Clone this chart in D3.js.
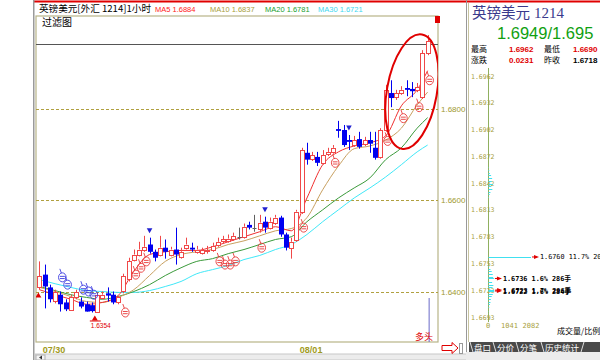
<!DOCTYPE html>
<html><head><meta charset="utf-8">
<script src="https://cdn.jsdelivr.net/npm/d3@7"></script>
<style>
body{margin:0;background:#fff;}
svg{display:block;font-family:"Liberation Sans",Arial,"Noto Sans CJK SC",sans-serif;}
</style>
</head><body>
<svg id="c" width="600" height="360"></svg>
<script>
// ---------- data ----------
const opens=[1.6409,1.6437,1.6409,1.6378,1.6393,1.6376,1.6361,1.6387,1.6378,1.6372,1.6370,1.6356,1.6387,1.6396,1.6393,1.6376,1.6400,1.6426,1.6470,1.6481,1.6492,1.6503,1.6487,1.6481,1.6496,1.6481,1.6492,1.6477,1.6496,1.6496,1.6487,1.6485,1.6487,1.6492,1.6503,1.6509,1.6511,1.6516,1.6520,1.6520,1.6546,1.6540,1.6538,1.6553,1.6540,1.6551,1.6562,1.6525,1.6496,1.6514,1.6575,1.6704,1.6691,1.6695,1.6682,1.6702,1.6706,1.6756,1.6754,1.6732,1.6721,1.6734,1.6724,1.6732,1.6715,1.6695,1.6754,1.6835,1.6826,1.6835,1.6846,1.6844,1.6842,1.6826,1.6922];
const highs=[1.6466,1.6459,1.6415,1.6404,1.6400,1.6383,1.6393,1.6404,1.6387,1.6378,1.6376,1.6398,1.6400,1.6409,1.6400,1.6391,1.6439,1.6474,1.6492,1.6509,1.6522,1.6518,1.6492,1.6522,1.6514,1.6498,1.6540,1.6496,1.6518,1.6507,1.6500,1.6496,1.6500,1.6507,1.6518,1.6522,1.6525,1.6529,1.6540,1.6549,1.6553,1.6568,1.6568,1.6564,1.6562,1.6568,1.6566,1.6529,1.6518,1.6579,1.6715,1.6726,1.6706,1.6706,1.6710,1.6715,1.6721,1.6774,1.6765,1.6743,1.6741,1.6750,1.6739,1.6750,1.6750,1.6758,1.6853,1.6863,1.6842,1.6850,1.6863,1.6859,1.6857,1.6929,1.6962];
const lows=[1.6404,1.6363,1.6376,1.6374,1.6356,1.6357,1.6358,1.6383,1.6363,1.6356,1.6354,1.6355,1.6383,1.6378,1.6372,1.6372,1.6396,1.6422,1.6466,1.6477,1.6487,1.6483,1.6466,1.6477,1.6472,1.6477,1.6459,1.6472,1.6492,1.6487,1.6483,1.6481,1.6483,1.6487,1.6498,1.6505,1.6507,1.6511,1.6514,1.6516,1.6536,1.6531,1.6529,1.6529,1.6536,1.6546,1.6520,1.6490,1.6472,1.6509,1.6570,1.6678,1.6686,1.6675,1.6678,1.6697,1.6702,1.6737,1.6717,1.6710,1.6717,1.6713,1.6719,1.6704,1.6689,1.6691,1.6750,1.6804,1.6820,1.6831,1.6828,1.6826,1.6837,1.6822,1.6918];
const closes=[1.6433,1.6411,1.6383,1.6398,1.6372,1.6361,1.6389,1.6398,1.6367,1.6356,1.6357,1.6393,1.6393,1.6391,1.6376,1.6387,1.6433,1.6466,1.6481,1.6492,1.6498,1.6487,1.6474,1.6496,1.6487,1.6492,1.6481,1.6487,1.6503,1.6492,1.6492,1.6492,1.6490,1.6500,1.6509,1.6514,1.6516,1.6522,1.6520,1.6542,1.6540,1.6540,1.6551,1.6540,1.6553,1.6562,1.6525,1.6496,1.6509,1.6575,1.6710,1.6689,1.6699,1.6682,1.6699,1.6706,1.6715,1.6752,1.6721,1.6728,1.6732,1.6717,1.6732,1.6724,1.6693,1.6754,1.6842,1.6824,1.6835,1.6842,1.6842,1.6839,1.6848,1.6922,1.6949];

// moving averages at these candle indices
const maIdx=[0,3,6,9,12,15,18,21,24,27,30,33,36,39,42,45,48,51,54,57,60,63,66,69,72,74];
const ma5 =[1.6404,1.6393,1.6383,1.6372,1.6376,1.6391,1.6444,1.6481,1.6487,1.6490,1.6490,1.6498,1.6509,1.6520,1.6531,1.6542,1.6533,1.6605,1.6678,1.6706,1.6719,1.6726,1.6741,1.6807,1.6842,1.6884];
const ma10=[1.6409,1.6400,1.6389,1.6378,1.6376,1.6387,1.6404,1.6435,1.6466,1.6481,1.6487,1.6492,1.6503,1.6511,1.6522,1.6533,1.6538,1.6562,1.6623,1.6675,1.6713,1.6719,1.6732,1.6758,1.6809,1.6837];
const ma20=[1.6411,1.6402,1.6393,1.6387,1.6383,1.6389,1.6400,1.6415,1.6435,1.6452,1.6466,1.6472,1.6483,1.6492,1.6503,1.6514,1.6520,1.6553,1.6579,1.6605,1.6627,1.6649,1.6689,1.6715,1.6758,1.6781];
const ma30=[1.6426,1.6417,1.6409,1.6402,1.6400,1.6398,1.6398,1.6402,1.6411,1.6422,1.6439,1.6448,1.6457,1.6470,1.6479,1.6492,1.6503,1.6525,1.6553,1.6579,1.6605,1.6627,1.6651,1.6678,1.6706,1.6721];

const yTicks=[1.64,1.66,1.68];
const xLabels=["07/30","08/01"];
const xLabelIdx=[1,50];

// signal glyphs (hands)
const handIdx  =[4,5,8,9,10,16,18,19,20,34,35,36,37,42,50,56,66,69,72,74];
const handPrice=[1.6431,1.6415,1.6404,1.6400,1.6393,1.6354,1.6437,1.6452,1.6466,1.6466,1.6459,1.6459,1.6466,1.6496,1.6540,1.6682,1.6730,1.6780,1.6804,1.6863];
const handColor=["b","b","b","b","b","r","r","r","r","r","r","r","r","r","r","r","r","r","r","r"];
const sellIdx=[21,43,59];

// right panel: price distribution
const distTicks=[1.6962,1.6932,1.6902,1.6872,1.6842,1.6813,1.6783,1.6753,1.6723,1.6693];
const distPrices=[1.6860,1.6857,1.6854,1.6851,1.6848,1.6845,1.6842,1.6839,1.6836,1.6833,1.6830,1.6827,
  1.6760,1.6750,1.6747,1.6744,1.6741,1.6738,1.6736,1.6732,1.6729,1.6726,1.6723,1.6722,1.6719,1.6716,1.6713,1.6710,1.6707,1.6704,1.6700,1.6697];
const distVols=[40,60,90,150,200,180,240,160,210,120,80,50,
  2082,60,120,180,230,250,286,200,260,220,296,284,230,180,140,120,90,60,40,20];
const volTicks=[0,1041,2082];
const noteLabels=["1.6760 11.7% 2082","1.6736 1.6% 286手","1.6723 1.7% 296手","1.6722 1.6% 284手"];
const notePrices=[1.6760,1.6736,1.6723,1.6722];
const noteVols=[2082,286,296,284];

// ---------- drawing ----------
const svg=d3.select("#c");
const L=36,R=438,T=16,B=342;
const x=d3.scaleBand().domain(d3.range(closes.length)).range([37,430]).paddingInner(0.3).paddingOuter(0.1);
const cx=i=>x(i)+x.bandwidth()/2;
const y=d3.scaleLinear().domain([1.64,1.68]).range([291.5,109]);

svg.append("rect").attr("width",600).attr("height",360).attr("fill","#fff");
// top red line & left border
svg.append("line").attr("x1",34).attr("x2",600).attr("y1",1.5).attr("y2",1.5).attr("stroke","#e00000").attr("stroke-width",2);
svg.append("rect").attr("x",33).attr("y",0).attr("width",1.5).attr("height",360).attr("fill","#9a9a9a");

// header
const hdr=svg.append("g");
hdr.append("text").attr("x",39).attr("y",12).attr("font-size",9.6).attr("fill","#000")
  .attr("font-family","'Noto Sans CJK SC',sans-serif").text("英镑美元[外汇 1214]1小时");
const maNames=["MA5","MA10","MA20","MA30"], maColors=["#ff2020","#a8a040","#20a030","#40d8f0"],
      maLineColors=["#f03030","#c8a060","#3a9a3a","#40e8f8"], maLast=[ma5,ma10,ma20,ma30].map(a=>a[a.length-1]);
const maX=[155,210,265,318];
maNames.forEach((n,k)=>hdr.append("text").attr("x",maX[k]).attr("y",12).attr("font-size",7.5).attr("fill",maColors[k]).text(n+" "+maLast[k].toFixed(4)));

// plot frame
svg.append("rect").attr("x",L).attr("y",T).attr("width",R-L).attr("height",B-T).attr("fill","#fff").attr("stroke","#b8b488").attr("stroke-width",1.2);
svg.append("text").attr("x",42).attr("y",26).attr("font-size",10).attr("fill","#000").attr("font-family","'Noto Sans CJK SC',sans-serif").text("过滤图");
svg.append("rect").attr("x",435).attr("y",T).attr("width",5).attr("height",7).attr("fill","#e00000");

svg.append("defs").append("clipPath").attr("id","pc").append("rect").attr("x",L).attr("y",T).attr("width",R-L).attr("height",B-T);
const g=svg.append("g").attr("clip-path","url(#pc)");

// gridlines
g.selectAll(".gl").data(yTicks).join("line").attr("x1",L).attr("x2",R)
  .attr("y1",d=>Math.round(y(d))+0.5).attr("y2",d=>Math.round(y(d))+0.5)
  .attr("stroke","#b0a040").attr("stroke-dasharray","3,2").attr("stroke-width",1);
// y axis labels
const ya=svg.append("g").attr("transform",`translate(${R+1},0)`)
  .call(d3.axisRight(y).tickValues(yTicks).tickFormat(d3.format(".4f")).tickSize(0).tickPadding(2));
ya.select(".domain").remove();
ya.selectAll("text").attr("font-size",8).attr("fill","#a09a30").attr("font-family","'Liberation Sans',Arial,sans-serif");

// current price line
const last=closes[closes.length-1];
g.append("line").attr("x1",L).attr("x2",R).attr("y1",Math.round(y(last))+3.5).attr("y2",Math.round(y(last))+3.5).attr("stroke","#555").attr("stroke-width",1);

// MA lines
[ma30,ma20,ma10,ma5].forEach((arr,k)=>{
  const col=maLineColors[3-k];
  const line=d3.line().x((d,j)=>cx(maIdx[j])).y(d=>y(d)).curve(d3.curveMonotoneX);
  g.append("path").attr("d",line(arr)).attr("fill","none").attr("stroke",col).attr("stroke-width",1);
});

// candles
const RED="#f04848", BLUE="#0000f0", GRAY="#606060";
closes.forEach((c,i)=>{
  const o=opens[i],h=highs[i],l=lows[i];
  const xc=Math.round(cx(i))+0.5;
  const top=y(Math.max(o,c)), bot=y(Math.min(o,c));
  if(c===o){
    g.append("line").attr("x1",xc).attr("x2",xc).attr("y1",y(h)).attr("y2",y(l)).attr("stroke",GRAY);
    g.append("line").attr("x1",xc-2).attr("x2",xc+2).attr("y1",Math.round(top)+0.5).attr("y2",Math.round(top)+0.5).attr("stroke",GRAY);
  } else if(c>o){
    g.append("line").attr("x1",xc).attr("x2",xc).attr("y1",y(h)).attr("y2",top).attr("stroke",RED);
    g.append("line").attr("x1",xc).attr("x2",xc).attr("y1",bot).attr("y2",y(l)).attr("stroke",RED);
    g.append("rect").attr("x",xc-2).attr("y",Math.round(top)+0.5).attr("width",4).attr("height",Math.max(1,Math.round(bot-top)))
      .attr("fill","#fff").attr("stroke",RED).attr("stroke-width",1);
  } else {
    g.append("line").attr("x1",xc).attr("x2",xc).attr("y1",y(h)).attr("y2",y(l)).attr("stroke",BLUE);
    g.append("rect").attr("x",xc-2.5).attr("y",top).attr("width",5).attr("height",Math.max(1.5,bot-top)).attr("fill",BLUE);
  }
});

// hand signals
handIdx.forEach((i,k)=>{
  const col=handColor[k]==="b"?"#3a3ae0":"#e83838";
  const hg=g.append("g").attr("transform",`translate(${cx(i)+2},${y(handPrice[k])})`).attr("fill","none").attr("stroke",col).attr("stroke-width",0.9);
  hg.append("ellipse").attr("rx",3.8).attr("ry",4.5);
  hg.append("path").attr("d","M-1,-4.3 L-2.5,-8.5 M-2.4,-1 L2.4,-1 M-2.4,1.2 L2.4,1.2");
});

// sell triangles
sellIdx.forEach(i=>{
  const yy=y(highs[i])-7;
  g.append("path").attr("d",`M${cx(i)-2.8},${yy-2.5} L${cx(i)+2.8},${yy-2.5} L${cx(i)},${yy+2.5} Z`).attr("fill","#2020d0");
});
// low marker
const lowI=d3.minIndex(lows);
{
  const yy=y(lows[lowI])+6;
  g.append("path").attr("d",`M${cx(lowI)+3},${yy-3} L${cx(lowI)+6},${yy+2} L${cx(lowI)},${yy+2} Z`).attr("fill","#e00000");
  g.append("line").attr("x1",cx(lowI)-2).attr("x2",cx(lowI)+9).attr("y1",yy+2.5).attr("y2",yy+2.5).attr("stroke","#e00000");
  g.append("text").attr("x",cx(lowI)-1).attr("y",yy+10).attr("font-size",6.5).attr("fill","#e00000").text(lows[lowI].toFixed(4));
}
// left edge marker
g.append("path").attr("d",`M${cx(0)-1},${y(closes[0])+16} L${cx(0)+2},${y(closes[0])+21} L${cx(0)-4},${y(closes[0])+21} Z`).attr("fill","#e00000");

// ellipse annotation
g.append("ellipse").attr("transform",`translate(${cx(71)},${y(1.6838)}) rotate(10)`).attr("rx",25).attr("ry",58)
  .attr("fill","none").attr("stroke","#e00000").attr("stroke-width",2);

// bottom marker
g.append("line").attr("x1",cx(74)+1.5).attr("x2",cx(74)+1.5).attr("y1",298).attr("y2",B).attr("stroke","#6a6ac8").attr("stroke-width",1);
svg.append("text").attr("x",415).attr("y",340).attr("font-size",9).attr("fill","#e00000").attr("font-family","'Noto Sans CJK SC',sans-serif").text("多头");

// x labels
xLabelIdx.forEach((i,k)=>svg.append("text").attr("x",x(i)).attr("y",353).attr("font-size",9).attr("font-weight","bold").attr("fill","#a09a20").text(xLabels[k]));
// scrollbar
svg.append("rect").attr("x",35).attr("y",354).attr("width",432).attr("height",6).attr("fill","#ececec").attr("stroke","#c8c8c8");
svg.append("rect").attr("x",36).attr("y",355).attr("width",9).attr("height",5).attr("fill","#f4f4f4").attr("stroke","#b0b0b0");
svg.append("path").attr("d","M39,357.5 L42,355.5 L42,359.5 Z").attr("fill","#333");
// red arrow bottom right
svg.append("path").attr("d","M442,345.5 L452,345.5 L452,342.5 L458,348 L452,353.5 L452,350.5 L442,350.5 Z").attr("fill","#fff").attr("stroke","#e00000").attr("stroke-width",1);
svg.append("rect").attr("x",459.5).attr("y",343.5).attr("width",3).attr("height",10).attr("fill","#fff").attr("stroke","#999");

// ---------- right panel ----------
svg.append("line").attr("x1",466.5).attr("x2",466.5).attr("y1",0).attr("y2",360).attr("stroke","#999");
svg.append("line").attr("x1",468.5).attr("x2",468.5).attr("y1",3).attr("y2",342).attr("stroke","#c8c4a0");
const rp=svg.append("g");
rp.append("text").attr("x",472).attr("y",18).attr("font-size",14.5).attr("fill","#3a3a8c").attr("font-family","'Noto Sans CJK SC','Liberation Serif',serif").text("英镑美元");
rp.append("text").attr("x",534).attr("y",18).attr("font-size",15).attr("fill","#3a3a8c").attr("font-family","'Liberation Serif',serif").text("1214");
rp.append("text").attr("x",497).attr("y",39).attr("font-size",16.5).attr("fill","#10a010").text("1.6949/1.695");
const f1="'Noto Sans CJK SC',sans-serif";
rp.append("text").attr("x",471).attr("y",52).attr("font-size",8).attr("font-family",f1).text("最高");
rp.append("text").attr("x",509).attr("y",52).attr("font-size",8).attr("font-weight","bold").attr("fill","#e00000").text(d3.max(highs).toFixed(4));
rp.append("text").attr("x",544).attr("y",52).attr("font-size",8).attr("font-family",f1).text("最低");
rp.append("text").attr("x",573).attr("y",52).attr("font-size",8).attr("font-weight","bold").attr("fill","#e00000").text("1.6690");
rp.append("text").attr("x",471).attr("y",63).attr("font-size",8).attr("font-family",f1).text("涨跌");
rp.append("text").attr("x",509).attr("y",63).attr("font-size",8).attr("font-weight","bold").attr("fill","#e00000").text("0.0231");
rp.append("text").attr("x",544).attr("y",63).attr("font-size",8).attr("font-family",f1).text("昨收");
rp.append("text").attr("x",573).attr("y",63).attr("font-size",8).attr("font-weight","bold").attr("fill","#000").text("1.6718");

const yd=d3.scaleLinear().domain([1.6693,1.6962]).range([317,76]);
const xd=d3.scaleLinear().domain([0,2082]).range([488,531]);
rp.append("line").attr("x1",488.5).attr("x2",488.5).attr("y1",68).attr("y2",322).attr("stroke","#90b060");
rp.selectAll(".dt").data(distTicks).join("text").attr("x",471).attr("y",d=>yd(d)+2.5).attr("font-size",6.5)
  .attr("fill","#a8a040").attr("font-family","'DejaVu Sans Mono',monospace").text(d=>d.toFixed(4));
rp.selectAll(".db").data(distPrices).join("line").attr("x1",488.5).attr("x2",(d,k)=>xd(distVols[k]))
  .attr("y1",d=>Math.round(yd(d))+0.5).attr("y2",d=>Math.round(yd(d))+0.5).attr("stroke","#40e0f0").attr("stroke-width",1);
rp.selectAll(".vt").data(volTicks).join("text").attr("x",d=>xd(d)).attr("y",328).attr("font-size",7).attr("text-anchor","middle")
  .attr("fill","#a8a040").attr("font-family","'DejaVu Sans Mono',monospace").text(d=>d);
notePrices.forEach((p,k)=>{
  const xx=xd(noteVols[k])+3, yy=yd(p);
  rp.append("path").attr("d",`M${xx},${yy-2} L${xx+5},${yy} L${xx},${yy+2} Z`).attr("fill","#e00000");
  rp.append("line").attr("x1",xx-2).attr("x2",xx+2).attr("y1",yy).attr("y2",yy).attr("stroke","#e00000");
  rp.append("text").attr("x",xx+6).attr("y",yy+2.5).attr("font-size",6.8).attr("font-weight",k?"bold":"normal").attr("fill","#000")
    .attr("font-family","'DejaVu Sans Mono','Noto Sans CJK SC',monospace").text(noteLabels[k]);
});
rp.append("text").attr("x",557).attr("y",334).attr("font-size",8).attr("font-family",f1).attr("fill","#000").text("成交量/比例");

// tabs
rp.append("rect").attr("x",469).attr("y",342).attr("width",131).attr("height",10).attr("fill","#4a4a4a");
rp.append("rect").attr("x",466).attr("y",352).attr("width",134).attr("height",8).attr("fill","#ececec");
const tabs=["盘口","分价","分笔","历史统计"], tabX=[474,497,520,545];
tabs.forEach((t,k)=>{
  rp.append("text").attr("x",tabX[k]).attr("y",350.5).attr("font-size",8.5).attr("fill","#fff").attr("font-family",f1).text(t);
  rp.append("line").attr("x1",tabX[k]-4).attr("x2",tabX[k]-1).attr("y1",342).attr("y2",352).attr("stroke","#ddd");
});
rp.append("line").attr("x1",584).attr("x2",581).attr("y1",342).attr("y2",352).attr("stroke","#ddd");
</script>
</body></html>
